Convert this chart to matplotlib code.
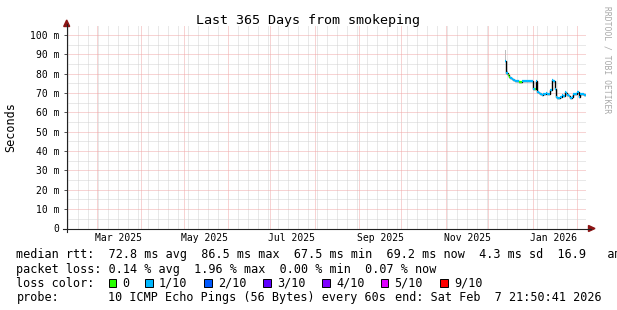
import datetime as dt
import matplotlib
matplotlib.use('Agg')
import matplotlib.pyplot as plt
import matplotlib.dates as mdates
from matplotlib.lines import Line2D
from matplotlib.patches import Polygon, Rectangle
from matplotlib.ticker import MultipleLocator, FuncFormatter, NullFormatter

plt.rcParams['font.family'] = ['DejaVu Sans Mono']

# graph window
range_start = dt.datetime(2025, 2, 7, 21, 50, 41)
range_end = dt.datetime(2026, 2, 7, 21, 50, 41)

# one median rtt per day (ms), first sample on 2025-12-12
first_day = dt.datetime(2025, 12, 12, 12, 0)
median_ms = [86.5, 80.5, 79.5, 78.5, 78.0, 77.3, 76.8, 76.2, 76.2, 76.0,
             75.6, 75.6, 76.2, 76.2, 76.1, 76.2, 76.2, 76.0, 76.3, 76.0,
             72.0, 72.3, 76.0, 70.6, 70.0, 69.6, 69.2, 69.6, 69.4, 69.8,
             69.3, 69.6, 71.5, 76.7, 76.0, 72.0, 68.0, 67.5, 67.5, 68.2,
             69.0, 68.3, 70.7, 70.2, 69.2, 68.3, 67.6, 67.8, 69.4, 69.6,
             69.3, 70.3, 67.8, 69.5, 69.3, 69.6, 69.2]
# loss class per day (index into loss_colors)
loss_class = [1, 1, 0, 0, 1, 1, 1, 1, 1, 1,
              0, 0, 1, 1, 1, 1, 1, 1, 1, 1,
              1, 0, 1, 1, 1, 1, 1, 1, 1, 1,
              1, 1, 1, 1, 1, 1, 1, 1, 1, 1,
              1, 1, 1, 1, 1, 1, 1, 1, 1, 1,
              1, 1, 1, 1, 1, 1, 1]
# visible smoke (max ping) on the first days
smoke_day = [0, 1]
smoke_top = [92.3, 81.2]

loss_labels = ['0', '1/10', '2/10', '3/10', '4/10', '5/10', '9/10']
loss_colors = ['#26ff00', '#00b8ff', '#0059ff', '#5e00ff', '#7e00ff', '#dd00ff', '#ff0000']

label_months = [dt.datetime(2025, 3, 1), dt.datetime(2025, 5, 1), dt.datetime(2025, 7, 1),
                dt.datetime(2025, 9, 1), dt.datetime(2025, 11, 1), dt.datetime(2026, 1, 1)]

rtt_line = 'median rtt:  72.8 ms avg  86.5 ms max  67.5 ms min  69.2 ms now  4.3 ms sd  16.9   am'
loss_line = 'packet loss: 0.14 % avg  1.96 % max  0.00 % min  0.07 % now'
probe_text = '10 ICMP Echo Pings (56 Bytes) every 60s'
end_text = 'end: Sat Feb  7 21:50:41 2026'

W, H = 617, 310
fig = plt.figure(figsize=(W / 100, H / 100), dpi=100)
fig.set_facecolor('white')


def fpx(x, y):
    # pixel position (from top left) -> figure fraction
    return x / W, 1 - y / H


left, right, top, bottom = 66.7, 586.5, 26.0, 228.5
ax = fig.add_axes([left / W, 1 - bottom / H, (right - left) / W, (bottom - top) / H])
ax.set_facecolor('white')
for s in ax.spines.values():
    s.set_visible(False)

x0 = mdates.date2num(range_start)
x1 = mdates.date2num(range_end)
ax.set_xlim(x0, x1)
ax.set_ylim(0, 104.65)

# grid (dotted)
red = '#f0a8a8'
grey = '#d2d2d2'
ax.xaxis.set_major_locator(mdates.MonthLocator())
ax.xaxis.set_minor_locator(mdates.WeekdayLocator(byweekday=mdates.SU))
ax.xaxis.set_major_formatter(NullFormatter())
ax.yaxis.set_major_locator(MultipleLocator(10))
ax.yaxis.set_minor_locator(MultipleLocator(5))
ax.yaxis.set_major_formatter(FuncFormatter(lambda v, p: '0' if v == 0 else '%d m' % v))
ax.grid(which='major', color=red, lw=0.72, ls=(0, (1, 1)))
ax.grid(which='minor', color=grey, lw=0.72, ls=(0, (1, 1)))
ax.set_axisbelow(True)
ax.tick_params(axis='x', which='both', length=0)
ax.tick_params(axis='y', which='minor', length=0)
ax.tick_params(axis='y', which='major', length=2.2, width=0.72, color='#555555',
               pad=3, labelsize=7, labelcolor='black')

# data
days = [first_day + dt.timedelta(days=i) for i in range(len(median_ms))]
edges = mdates.date2num(days + [days[-1] + dt.timedelta(days=1)])
for i, d in enumerate(smoke_day):
    ax.fill_between([edges[d], edges[d + 1]], median_ms[d], smoke_top[i],
                    color='#bdbdbd', lw=0)
ax.stairs(median_ms, edges, baseline=None, color='black', lw=1.0)
ax.hlines(median_ms, edges[:-1], edges[1:], colors=[loss_colors[c] for c in loss_class], lw=1.6)

# month labels centred in the month
for m in label_months:
    mid = mdates.date2num(m + dt.timedelta(days=15))
    ax.text(mid, -(241 - bottom) / (bottom - top), m.strftime('%b %Y'),
            transform=ax.get_xaxis_transform(), ha='center', va='baseline', fontsize=7)

# axes lines and arrows
fig.add_artist(Line2D([63 / W, 591 / W], [1 - bottom / H] * 2, color='#222222', lw=0.8))
fig.add_artist(Line2D([left / W] * 2, [1 - 231.5 / H, 1 - 24 / H], color='#222222', lw=0.8))
fig.add_artist(Polygon([fpx(588.5, 225.5), fpx(588.5, 231.5), fpx(595, 228.5)],
                       closed=True, color='#8c1414', transform=fig.transFigure))
fig.add_artist(Polygon([fpx(63.7, 26.5), fpx(69.7, 26.5), fpx(66.7, 20)],
                       closed=True, color='#8c1414', transform=fig.transFigure))

# titles
fig.text(*fpx(308.5, 24), 'Last 365 Days from smokeping', ha='center', va='baseline', fontsize=9.6)
fig.text(*fpx(11, 127), 'Seconds', rotation=90, ha='center', va='center', fontsize=8.5)
fig.text(*fpx(607, 60), 'RRDTOOL / TOBI OETIKER', rotation=270, ha='center', va='center',
         fontsize=5.8, color='#a8a8a8')

# legend
fs = 8.5
fig.text(*fpx(16.5, 258), rtt_line, fontsize=fs, va='baseline')
fig.text(*fpx(16.5, 272.5), loss_line, fontsize=fs, va='baseline')
fig.text(*fpx(16.5, 287), 'loss color:', fontsize=fs, va='baseline')
box_x = [108.5, 145, 204, 263, 322, 380.5, 440]
for lab, col, bx in zip(loss_labels, loss_colors, box_x):
    fig.add_artist(Rectangle(fpx(bx, 286.5), 7.5 / W, 7.5 / H, facecolor=col,
                             edgecolor='black', lw=0.7, transform=fig.transFigure))
    fig.text(*fpx(bx + 14, 287), lab, fontsize=fs, va='baseline')
fig.text(*fpx(16.5, 301), 'probe:', fontsize=fs, va='baseline')
fig.text(*fpx(107.5, 301), probe_text, fontsize=fs, va='baseline')
fig.text(*fpx(395, 301), end_text, fontsize=fs, va='baseline')

fig.savefig('out.png', dpi=100, facecolor='white')
